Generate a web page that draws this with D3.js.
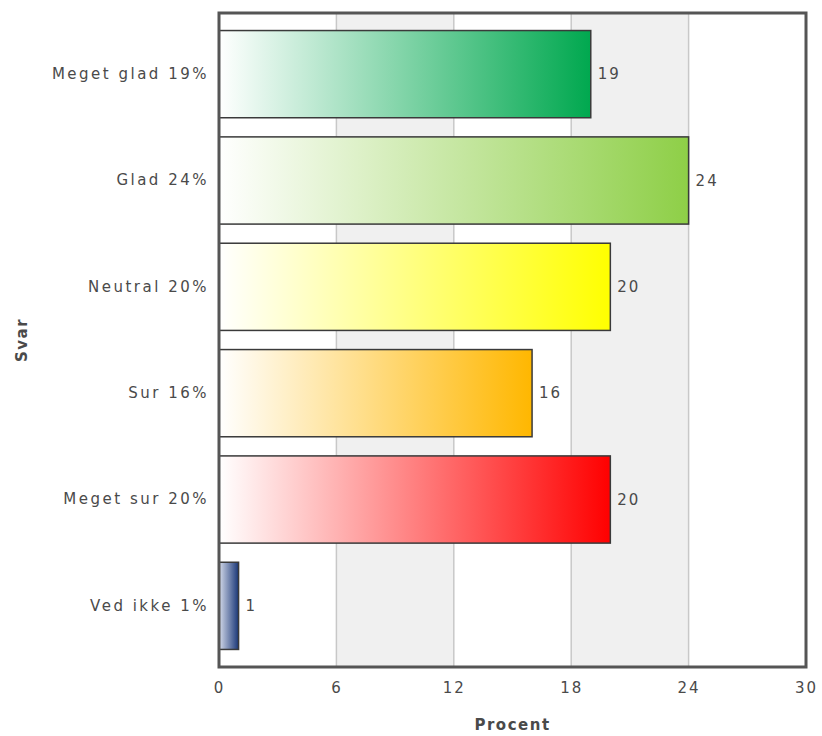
<!DOCTYPE html>
<html><head><meta charset="utf-8">
<script src="https://cdn.jsdelivr.net/npm/d3@7"></script>
<style>body{margin:0;background:#fff;} svg{display:block;}</style>
</head><body>
<script>
const categories = ["Meget glad 19%", "Glad 24%", "Neutral 20%", "Sur 16%", "Meget sur 20%", "Ved ikke 1%"];
const values = [19, 24, 20, 16, 20, 1];
const barColors = ["#00a84f", "#8ecf47", "#ffff00", "#ffb700", "#ff0000", "#1a3778"];
const startColors = ["#ffffff", "#ffffff", "#ffffff", "#ffffff", "#ffffff", "#d6dceb"];
const xTicks = [0, 6, 12, 18, 24, 30];
const xTitle = "Procent";
const yTitle = "Svar";

const W = 822, H = 736;
const m = {left: 219, right: 16, top: 13, bottom: 69};
const svg = d3.select("body").append("svg").attr("width", W).attr("height", H);
const font = "DejaVu Sans, Verdana, sans-serif";

const x = d3.scaleLinear().domain([0, 30]).range([m.left, W - m.right]);
const y = d3.scaleBand().domain(categories).range([m.top, H - m.bottom]).paddingInner(0.18).paddingOuter(0.165);

const defs = svg.append("defs");
categories.forEach((c, i) => {
  const g = defs.append("linearGradient").attr("id", "g" + i).attr("x1", "0%").attr("x2", "100%").attr("y1", "0%").attr("y2", "0%");
  g.append("stop").attr("offset", "0%").attr("stop-color", startColors[i]);
  g.append("stop").attr("offset", "100%").attr("stop-color", barColors[i]);
});

// alternating bands
for (let i = 0; i < xTicks.length - 1; i++) {
  if (i % 2 === 1) {
    svg.append("rect").attr("x", x(xTicks[i])).attr("y", m.top)
      .attr("width", x(xTicks[i + 1]) - x(xTicks[i])).attr("height", H - m.bottom - m.top)
      .attr("fill", "#f0f0f0");
  }
}
// gridlines
svg.append("g").selectAll("line").data(xTicks.slice(1, -1)).join("line")
  .attr("x1", d => x(d)).attr("x2", d => x(d)).attr("y1", m.top).attr("y2", H - m.bottom)
  .attr("stroke", "#c8c8c8").attr("stroke-width", 1.5);

// bars
svg.append("g").selectAll("rect").data(values).join("rect")
  .attr("x", x(0)).attr("y", (d, i) => y(categories[i]))
  .attr("width", d => x(d) - x(0)).attr("height", y.bandwidth())
  .attr("fill", (d, i) => `url(#g${i})`)
  .attr("stroke", "#3a3a3a").attr("stroke-width", 1.5);

// value labels
svg.append("g").selectAll("text").data(values).join("text")
  .attr("x", d => x(d) + 7).attr("y", (d, i) => y(categories[i]) + y.bandwidth() / 2)
  .attr("dy", "0.35em").text(d => d)
  .attr("font-family", font).attr("font-size", 15).attr("letter-spacing", "2px").attr("fill", "#4a4a4a");

// frame
svg.append("rect").attr("x", m.left).attr("y", m.top).attr("width", W - m.right - m.left).attr("height", H - m.bottom - m.top)
  .attr("fill", "none").attr("stroke", "#555").attr("stroke-width", 3);

// y axis labels
const yAxis = svg.append("g").attr("transform", `translate(${m.left},0)`)
  .call(d3.axisLeft(y).tickSize(0).tickPadding(10));
yAxis.select(".domain").remove();
yAxis.selectAll("text").attr("font-family", font).attr("font-size", 15).attr("letter-spacing", "2.5px").attr("fill", "#4a4a4a");

// x axis labels
const xAxis = svg.append("g").attr("transform", `translate(0,${H - m.bottom})`)
  .call(d3.axisBottom(x).tickValues(xTicks).tickSize(0).tickPadding(15));
xAxis.select(".domain").remove();
xAxis.selectAll("text").attr("font-family", font).attr("font-size", 15).attr("letter-spacing", "2px").attr("fill", "#4a4a4a");

svg.append("text").attr("x", (m.left + W - m.right) / 2).attr("y", 725).attr("dy", "0.35em")
  .attr("text-anchor", "middle").attr("font-family", font).attr("font-size", 15).attr("font-weight", "bold")
  .attr("letter-spacing", "1.5px").attr("fill", "#4a4a4a").text(xTitle);
svg.append("text").attr("transform", `translate(22,${(m.top + H - m.bottom) / 2}) rotate(-90)`).attr("dy", "0.35em")
  .attr("text-anchor", "middle").attr("font-family", font).attr("font-size", 15).attr("font-weight", "bold")
  .attr("letter-spacing", "1.5px").attr("fill", "#4a4a4a").text(yTitle);
</script>
</body></html>
